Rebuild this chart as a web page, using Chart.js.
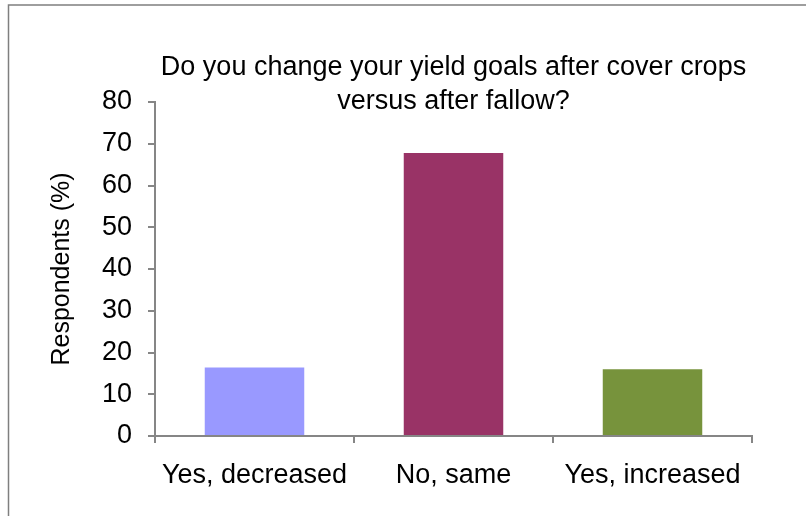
<!DOCTYPE html>
<html>
<head>
<meta charset="utf-8">
<title>Yield goals after cover crops</title>
<script src="https://cdn.jsdelivr.net/npm/chart.js@4/dist/chart.umd.min.js"></script>
<style>
  html, body { margin: 0; padding: 0; background: #fff; }
  #box { width: 806px; height: 516px; }
</style>
</head>
<body>
<div id="box"><canvas id="myChart" width="806" height="516"></canvas></div>
<script>
// survey answers, percent of respondents
var categories = ['Yes, decreased', 'No, same', 'Yes, increased'];
var respondents = [16.4, 67.8, 16.0];
var barColors = ['#9999FF', '#993366', '#77933C'];
var titleLines = ['Do you change your yield goals after cover crops', 'versus after fallow?'];
var yTitle = 'Respondents (%)';

var fontFamily = '"Liberation Sans", sans-serif';
var axisGray = '#868686';

// frame lines and the two-line title sitting over the plot
var decor = {
    id: 'decor',
    beforeDraw: function (chart) {
        var c = chart.ctx;
        c.save();
        c.strokeStyle = '#7f7f7f';
        c.lineWidth = 1.5;
        c.beginPath();
        c.moveTo(8.5, 520);
        c.lineTo(8.5, 5);
        c.lineTo(810, 5);
        c.stroke();
        c.restore();
    },
    afterDraw: function (chart) {
        var c = chart.ctx;
        var a = chart.chartArea;
        c.save();
        c.fillStyle = '#000';
        c.font = '27px ' + fontFamily;
        c.textAlign = 'center';
        c.textBaseline = 'middle';
        var cx = (a.left + a.right) / 2;
        c.fillText(titleLines[0], cx, 68);
        c.fillText(titleLines[1], cx, 102);
        c.restore();
    }
};

const ctx = document.getElementById('myChart');
new Chart(ctx, {
    type: 'bar',
    data: {
        labels: categories,
        datasets: [
            {
                data: respondents,
                backgroundColor: barColors,
                borderWidth: 0,
                barPercentage: 0.5,
                categoryPercentage: 1
            }
        ]
    },
    options: {
        responsive: false,
        animation: false,
        layout: {
            padding: { left: 0, top: 102, right: 54, bottom: 0 }
        },
        plugins: {
            legend: { display: false },
            tooltip: { enabled: false },
            title: { display: false }
        },
        scales: {
            x: {
                afterFit: function (scale) { scale.height = 80; },
                grid: {
                    offset: true,
                    drawOnChartArea: false,
                    drawTicks: true,
                    tickLength: 7,
                    color: axisGray,
                    lineWidth: 2
                },
                border: { color: axisGray, width: 2 },
                ticks: {
                    color: '#000',
                    padding: 16,
                    maxRotation: 0,
                    font: { family: fontFamily, size: 27 }
                }
            },
            y: {
                min: 0,
                max: 80,
                afterFit: function (scale) { scale.width = 155; },
                grid: {
                    drawOnChartArea: false,
                    drawTicks: true,
                    tickLength: 7,
                    color: axisGray,
                    lineWidth: 2
                },
                border: { color: axisGray, width: 2 },
                ticks: {
                    stepSize: 10,
                    color: '#000',
                    padding: 16,
                    font: { family: fontFamily, size: 27 }
                },
                title: {
                    display: true,
                    text: yTitle,
                    color: '#000',
                    padding: { top: 47, bottom: 0 },
                    font: { family: fontFamily, size: 25 }
                }
            }
        }
    },
    plugins: [decor]
});
</script>
</body>
</html>
